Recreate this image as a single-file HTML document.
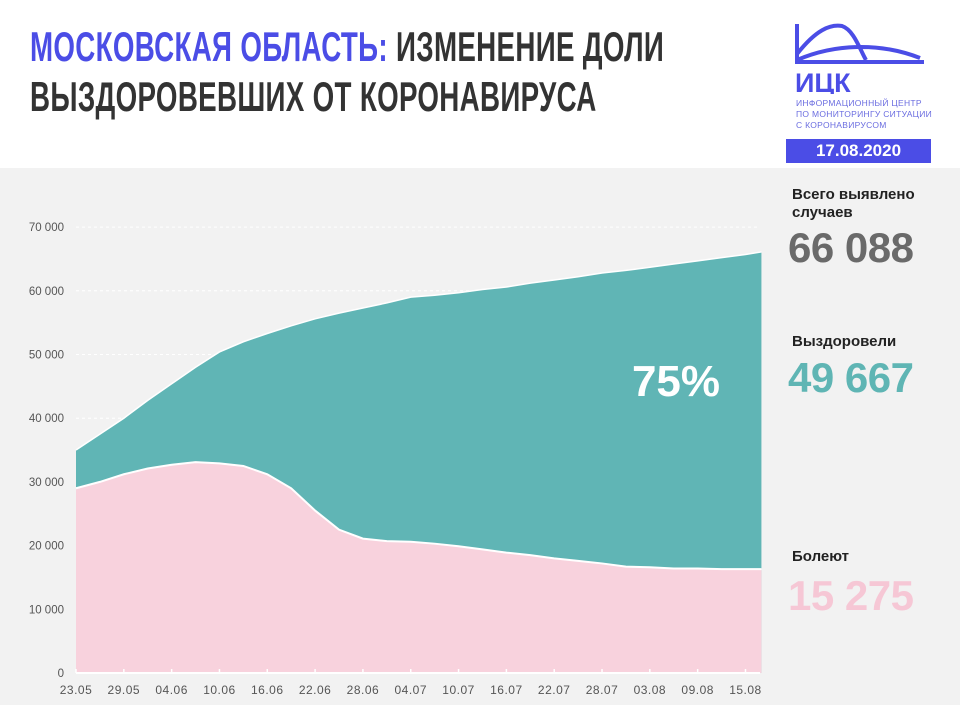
<!DOCTYPE html>
<html><head><meta charset="utf-8"><style>
body{margin:0;width:960px;height:720px;background:#fff;position:relative;overflow:hidden;font-family:"Liberation Sans",sans-serif}
.t{position:absolute;left:30px;font-weight:bold;font-size:42px;line-height:50px;transform:scaleX(0.66);transform-origin:left;white-space:nowrap;color:#333;letter-spacing:0.5px}
.b{color:#4b4de6}
.lbl{position:absolute;left:792px;font-weight:bold;font-size:15px;color:#222;line-height:18px}
.big{position:absolute;left:788px;font-weight:bold;font-size:42px;letter-spacing:-0.5px}
</style></head><body>
<div class="t" style="top:22px"><span class="b">МОСКОВСКАЯ ОБЛАСТЬ:</span> ИЗМЕНЕНИЕ ДОЛИ</div>
<div class="t" style="top:72px">ВЫЗДОРОВЕВШИХ ОТ КОРОНАВИРУСА</div>
<svg style="position:absolute;left:794px;top:22px" width="140" height="72">
<path d="M3 2 V40 H130 M3 38 C40 22 85 20 126 36 M3 32 C22 8 36 2 48 4 C60 8 66 28 72 38" fill="none" stroke="#4b4de6" stroke-width="4"/>
<text x="1" y="70" font-family="Liberation Sans" font-weight="bold" font-size="27" fill="#4b4de6">ИЦК</text></svg>
<div style="position:absolute;left:796px;top:98px;font-size:8.5px;line-height:11px;color:#6b6de0;letter-spacing:0.3px">ИНФОРМАЦИОННЫЙ ЦЕНТР<br>ПО МОНИТОРИНГУ СИТУАЦИИ<br>С КОРОНАВИРУСОМ</div>
<div style="position:absolute;left:786px;top:139px;width:145px;height:24px;background:#4b4de6;color:#fff;font-weight:bold;font-size:17px;text-align:center;line-height:24px">17.08.2020</div>
<div style="position:absolute;left:0;top:168px;width:960px;height:537px;background:#f2f2f2"></div>
<svg id="c" style="position:absolute;left:0;top:0" width="960" height="720"></svg>
<div class="lbl" style="top:186px">Всего выявлено<br>случаев</div>
<div class="big" style="top:224px;color:#6a6a6a">66 088</div>
<div class="lbl" style="top:333px">Выздоровели</div>
<div class="big" style="top:354px;color:#5fb5b4">49 667</div>
<div class="lbl" style="top:548px">Болеют</div>
<div class="big" style="top:572px;color:#f6c7d5">15 275</div>
<script>
const days=[0,3,6,9,12,15,18,21,24,27,30,33,36,39,42,45,48,51,54,57,60,63,66,69,72,75,78,81,84,86];
const total=[35000,37500,40000,42800,45400,48000,50400,52000,53300,54500,55600,56500,57300,58100,59000,59300,59700,60200,60600,61200,61700,62200,62800,63200,63700,64200,64700,65200,65700,66100];
const active=[29000,30000,31200,32100,32700,33100,32900,32500,31200,29000,25500,22500,21100,20700,20600,20300,19900,19400,18900,18500,18000,17600,17200,16700,16600,16400,16400,16300,16300,16300];
const yTicks=[0,10000,20000,30000,40000,50000,60000,70000];
const xTicks=["23.05","29.05","04.06","10.06","16.06","22.06","28.06","04.07","10.07","16.07","22.07","28.07","03.08","09.08","15.08"];
const X=d=>76+d*7.97, Y=v=>673-v/10000*63.7;
const s=document.getElementById('c'),N='http://www.w3.org/2000/svg';
function el(t,a){const e=document.createElementNS(N,t);for(const k in a)e.setAttribute(k,a[k]);s.appendChild(e);return e;}
yTicks.forEach(v=>{
 if(v>0){const g=el('line',{x1:76,x2:760,y1:Y(v),y2:Y(v),stroke:'#fff','stroke-dasharray':'3,3'});
 
 }
 const t=el('text',{x:64,y:Y(v)+4,'text-anchor':'end','font-size':11.5,fill:'#555','font-family':'Liberation Sans'});t.textContent=v?(v/1000)+' 000':'0';
 
 
});
let tp='M'+X(0)+','+Y(0);days.forEach((d,i)=>tp+=' L'+X(d)+','+Y(total[i]));tp+=' L'+X(86)+','+Y(0)+'Z';
const a1=el('path',{d:tp,fill:'#60b5b5'});


let ap='M'+X(0)+','+Y(0);days.forEach((d,i)=>ap+=' L'+X(d)+','+Y(active[i]));ap+=' L'+X(86)+','+Y(0)+'Z';
const a2=el('path',{d:ap,fill:'#f8d2dd'});


let tl='',al='';days.forEach((d,i)=>{tl+=(i?' L':'M')+X(d)+','+Y(total[i]);al+=(i?' L':'M')+X(d)+','+Y(active[i]);});
const l1=el('path',{d:tl,fill:'none',stroke:'#fff','stroke-width':1.5});


const l2=el('path',{d:al,fill:'none',stroke:'#fff','stroke-width':2});


const ax=el('line',{x1:76,x2:760,y1:Y(0),y2:Y(0),stroke:'#fff','stroke-width':2});


xTicks.forEach((lab,i)=>{
 const x=X(i*6);
 const tk=el('line',{x1:x,x2:x,y1:Y(0)-4,y2:Y(0),stroke:'#fff','stroke-width':1.5});
 
 
 const t=el('text',{x:x,y:694,'text-anchor':'middle','font-size':12,'letter-spacing':0.5,fill:'#555','font-family':'Liberation Sans'});t.textContent=lab;
 
 
});
const p=el('text',{x:676,y:396,'text-anchor':'middle','font-size':44,'font-weight':'bold',fill:'#fff','font-family':'Liberation Sans'});p.textContent='75%';


</script>
</body></html>
